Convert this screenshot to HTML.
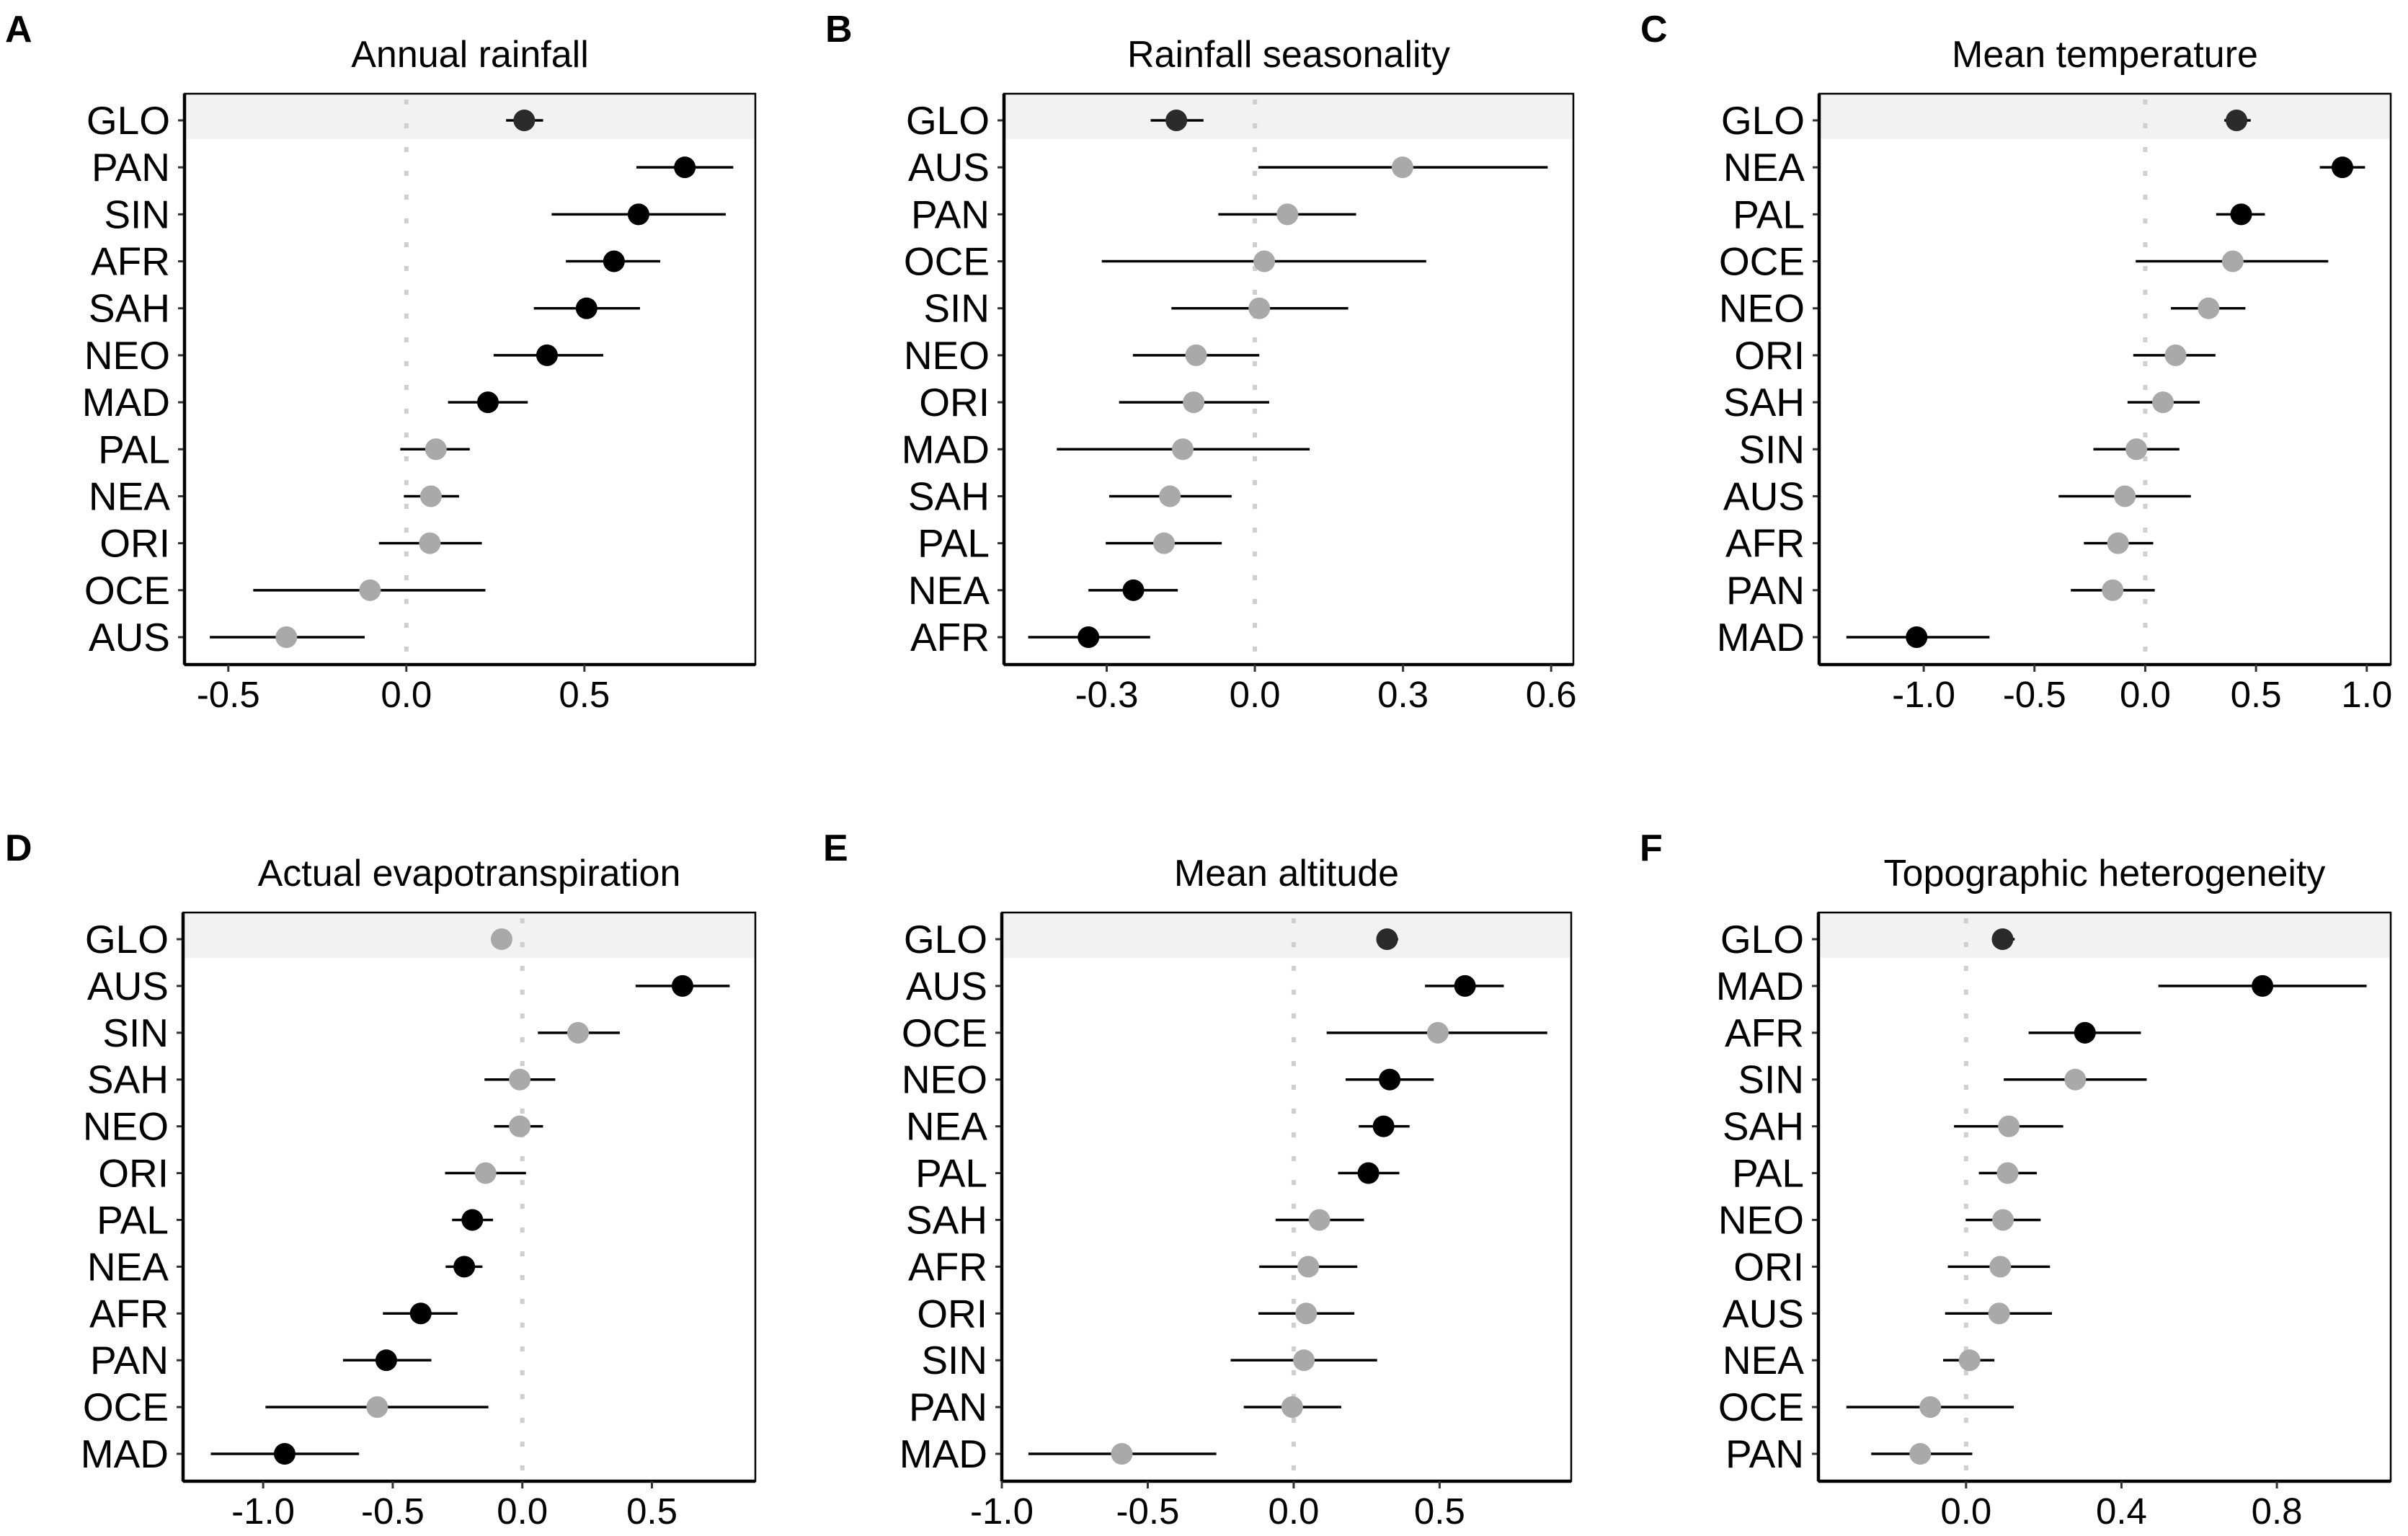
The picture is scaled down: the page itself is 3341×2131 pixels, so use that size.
<!DOCTYPE html>
<html><head><meta charset="utf-8">
<style>
html,body{margin:0;padding:0;background:#fff;}
svg{display:block;font-family:"Liberation Sans",Arial,sans-serif;}
</style></head>
<body>
<svg id="fig" width="3341" height="2131" viewBox="0 0 3341 2131" xmlns="http://www.w3.org/2000/svg"></svg>
<script>
// ---------- data (c: g=global, s=significant, n=not significant) ----------
const catsA=["GLO","PAN","SIN","AFR","SAH","NEO","MAD","PAL","NEA","ORI","OCE","AUS"];
const estA=[0.331,0.782,0.652,0.583,0.506,0.395,0.229,0.083,0.069,0.066,-0.102,-0.337];
const loA=[0.28,0.646,0.408,0.448,0.358,0.245,0.117,-0.017,-0.007,-0.077,-0.43,-0.552];
const hiA=[0.384,0.918,0.897,0.713,0.656,0.553,0.341,0.178,0.148,0.212,0.222,-0.117];
const colA=["g","s","s","s","s","s","s","n","n","n","n","n"];
const ticksA=[-0.5,0,0.5];
const tickLabA=["-0.5","0.0","0.5"];

const catsB=["GLO","AUS","PAN","OCE","SIN","NEO","ORI","MAD","SAH","PAL","NEA","AFR"];
const estB=[-0.159,0.299,0.066,0.019,0.009,-0.119,-0.124,-0.146,-0.172,-0.184,-0.246,-0.337];
const loB=[-0.211,0.007,-0.074,-0.31,-0.169,-0.247,-0.275,-0.401,-0.295,-0.302,-0.337,-0.459];
const hiB=[-0.104,0.593,0.205,0.347,0.189,0.009,0.029,0.111,-0.047,-0.067,-0.156,-0.212];
const colB=["g","n","n","n","n","n","n","n","n","n","s","s"];
const ticksB=[-0.3,0,0.3,0.6];
const tickLabB=["-0.3","0.0","0.3","0.6"];

const catsC=["GLO","NEA","PAL","OCE","NEO","ORI","SAH","SIN","AUS","AFR","PAN","MAD"];
const estC=[0.412,0.89,0.433,0.395,0.286,0.137,0.08,-0.04,-0.092,-0.123,-0.147,-1.032];
const loC=[0.357,0.788,0.32,-0.043,0.116,-0.054,-0.08,-0.234,-0.391,-0.277,-0.336,-1.349];
const hiC=[0.476,0.992,0.54,0.826,0.452,0.317,0.246,0.154,0.206,0.036,0.043,-0.703];
const colC=["g","s","s","n","n","n","n","n","n","n","n","s"];
const ticksC=[-1,-0.5,0,0.5,1];
const tickLabC=["-1.0","-0.5","0.0","0.5","1.0"];

const catsD=["GLO","AUS","SIN","SAH","NEO","ORI","PAL","NEA","AFR","PAN","OCE","MAD"];
const estD=[-0.08,0.618,0.215,-0.01,-0.01,-0.142,-0.193,-0.224,-0.392,-0.525,-0.56,-0.917];
const loD=[-0.08,0.437,0.06,-0.146,-0.109,-0.298,-0.271,-0.296,-0.538,-0.692,-0.991,-1.202];
const hiD=[-0.08,0.8,0.376,0.127,0.08,0.014,-0.113,-0.154,-0.25,-0.351,-0.131,-0.63];
const colD=["n","s","n","n","n","n","s","s","s","s","n","s"];
const ticksD=[-1,-0.5,0,0.5];
const tickLabD=["-1.0","-0.5","0.0","0.5"];

const catsE=["GLO","AUS","OCE","NEO","NEA","PAL","SAH","AFR","ORI","SIN","PAN","MAD"];
const estE=[0.32,0.587,0.494,0.329,0.308,0.256,0.088,0.05,0.043,0.035,-0.005,-0.589];
const loE=[0.284,0.45,0.113,0.178,0.223,0.152,-0.062,-0.118,-0.121,-0.216,-0.171,-0.909];
const hiE=[0.358,0.72,0.869,0.48,0.397,0.362,0.241,0.218,0.208,0.286,0.163,-0.265];
const colE=["g","s","n","s","s","s","n","n","n","n","n","n"];
const ticksE=[-1,-0.5,0,0.5];
const tickLabE=["-1.0","-0.5","0.0","0.5"];

const catsF=["GLO","MAD","AFR","SIN","SAH","PAL","NEO","ORI","AUS","NEA","OCE","PAN"];
const estF=[0.094,0.763,0.306,0.281,0.11,0.107,0.095,0.088,0.085,0.009,-0.092,-0.118];
const loF=[0.067,0.495,0.161,0.097,-0.031,0.033,-0.001,-0.047,-0.054,-0.059,-0.308,-0.244];
const hiF=[0.125,1.031,0.45,0.465,0.25,0.182,0.192,0.216,0.221,0.073,0.123,0.016];
const colF=["g","s","s","n","n","n","n","n","n","n","n","n"];
const ticksF=[0,0.4,0.8];
const tickLabF=["0.0","0.4","0.8"];

// ---------- layout ----------
const NS="http://www.w3.org/2000/svg";
const svg=document.getElementById('fig');
function mk(tag,attrs,parent){const e=document.createElementNS(NS,tag);for(const k in attrs)e.setAttribute(k,attrs[k]);(parent||svg).appendChild(e);return e;}
const COLORS={g:"#2b2b2b",s:"#000000",n:"#a9a9a9"};

const panels=[
 {id:"a",letter:"A",title:"Annual rainfall",cats:catsA,est:estA,lo:loA,hi:hiA,col:colA,ticks:ticksA,labs:tickLabA,x0:256,x1:1048,top:130,bot:922,d0:-0.623,d1:0.980,lx:7,ly:20},
 {id:"b",letter:"B",title:"Rainfall seasonality",cats:catsB,est:estB,lo:loB,hi:hiB,col:colB,ticks:ticksB,labs:tickLabB,x0:1393,x1:2183,top:130,bot:922,d0:-0.508,d1:0.645,lx:1145,ly:20},
 {id:"c",letter:"C",title:"Mean temperature",cats:catsC,est:estC,lo:loC,hi:hiC,col:colC,ticks:ticksC,labs:tickLabC,x0:2524,x1:3317,top:130,bot:922,d0:-1.472,d1:1.108,lx:2276,ly:20},
 {id:"d",letter:"D",title:"Actual evapotranspiration",cats:catsD,est:estD,lo:loD,hi:hiD,col:colD,ticks:ticksD,labs:tickLabD,x0:254,x1:1048,top:1266,bot:2055,d0:-1.309,d1:0.899,lx:7,ly:1156},
 {id:"e",letter:"E",title:"Mean altitude",cats:catsE,est:estE,lo:loE,hi:hiE,col:colE,ticks:ticksE,labs:tickLabE,x0:1390,x1:2180,top:1266,bot:2055,d0:-1.0,d1:0.951,lx:1142,ly:1156},
 {id:"f",letter:"F",title:"Topographic heterogeneity",cats:catsF,est:estF,lo:loF,hi:hiF,col:colF,ticks:ticksF,labs:tickLabF,x0:2523,x1:3317,top:1266,bot:2055,d0:-0.380,d1:1.093,lx:2275,ly:1156}
];

panels.forEach(p=>{
  const g=mk('g',{});
  
  
  const X=v=>p.x0+(v-p.d0)/(p.d1-p.d0)*(p.x1-p.x0);
  const n=p.cats.length;
  const y0=p.top+37, y1=p.bot-38, step=(y1-y0)/(n-1);
  const Y=i=>y0+i*step;

  const let_=mk('text',{x:p.lx,y:p.ly+38,'font-size':52,'font-weight':'bold',fill:'#000'},g);
  let_.textContent=p.letter;
  
  

  const t=mk('text',{x:(p.x0+p.x1)/2,y:p.top-37,'font-size':52,'text-anchor':'middle',fill:'#000'},g);
  t.textContent=p.title;
  
  

  const band=mk('rect',{x:p.x0,y:p.top,width:p.x1-p.x0,height:(Y(0)+26)-p.top,fill:'#f2f2f2'},g);
  
  

  const zl=mk('line',{x1:X(0),x2:X(0),y1:p.top+8,y2:p.bot,stroke:'#cfcfcf','stroke-width':6,'stroke-dasharray':'7 26'},g);
  
  

  for(let i=0;i<n;i++){
    const c=COLORS[p.col[i]];
    const eb=mk('line',{x1:X(p.lo[i]),x2:X(p.hi[i]),y1:Y(i),y2:Y(i),stroke:'#000','stroke-width':3.5},g);
    
    
    const dot=mk('circle',{cx:X(p.est[i]),cy:Y(i),r:15,fill:c},g);
    
    
    const tk=mk('line',{x1:p.x0-9,x2:p.x0,y1:Y(i),y2:Y(i),stroke:'#333','stroke-width':3},g);
    
    
    const lb=mk('text',{x:p.x0-20,y:Y(i)+19,'font-size':55,'text-anchor':'end',fill:'#000'},g);
    lb.textContent=p.cats[i];
    
    
  }

  const box=mk('rect',{x:p.x0,y:p.top,width:p.x1-p.x0,height:p.bot-p.top,fill:'none',stroke:'#000','stroke-width':2.5},g);
  
  
  const ax=mk('line',{x1:p.x0,x2:p.x1,y1:p.bot,y2:p.bot,stroke:'#000','stroke-width':4.5},g);
  
  
  const ay=mk('line',{x1:p.x0,x2:p.x0,y1:p.top,y2:p.bot,stroke:'#000','stroke-width':4.5},g);
  
  

  p.ticks.forEach((v,k)=>{
    const xt=mk('line',{x1:X(v),x2:X(v),y1:p.bot,y2:p.bot+10,stroke:'#333','stroke-width':3},g);
    
    
    const tl=mk('text',{x:X(v),y:p.bot+59,'font-size':51,'text-anchor':'middle',fill:'#000'},g);
    tl.textContent=p.labs[k];
    
    
  });
});
</script>
</body></html>
